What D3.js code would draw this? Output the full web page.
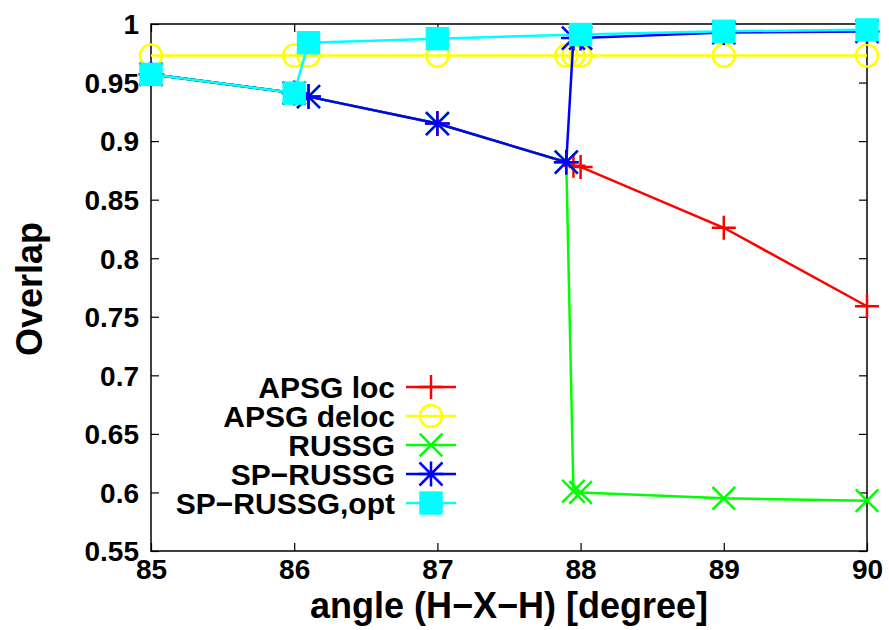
<!DOCTYPE html>
<html>
<head>
<meta charset="utf-8">
<script src="https://cdn.jsdelivr.net/npm/d3@7"></script>
<style>
  body { margin: 0; background: #fff; }
  svg text { font-family: "Liberation Sans", Arial, sans-serif; font-weight: bold; fill: #000; }
</style>
</head>
<body>
<svg id="chart" width="889" height="630"></svg>
<script>
// values
var angles = [85, 86, 86.1, 87, 87.9, 87.95, 88, 89, 90];
var anglesOpt = [85, 86, 86.1, 87, 88, 89, 90];

var apsgLoc   = [0.957, 0.941, 0.938, 0.915, 0.882, 0.879, 0.878, 0.826, 0.759];
var apsgDeloc = [0.973, 0.973, 0.973, 0.973, 0.973, 0.973, 0.973, 0.973, 0.973];
var russg     = [0.957, 0.941, 0.938, 0.915, 0.882, 0.601, 0.600, 0.595, 0.593];
var spRussg   = [0.957, 0.941, 0.938, 0.915, 0.882, 0.988, 0.988, 0.9927, 0.9937];
var spRussgOpt = [0.957, 0.941, 0.984, 0.9875, 0.991, 0.9938, 0.995];

var seriesNames = ['APSG loc', 'APSG deloc', 'RUSSG', 'SP\u2212RUSSG', 'SP\u2212RUSSG,opt'];
var seriesColors = ['#ff0000', '#ffff00', '#00ff00', '#0000ff', '#00ffff'];

var xTicks = [85, 86, 87, 88, 89, 90];
var yTicks = [0.55, 0.6, 0.65, 0.7, 0.75, 0.8, 0.85, 0.9, 0.95, 1];

var margin = {left: 151, right: 867, top: 24, bottom: 551};

var svg = d3.select('#chart');
var x = d3.scaleLinear().domain([85, 90]).range([margin.left, margin.right]);
var y = d3.scaleLinear().domain([0.55, 1]).range([margin.bottom, margin.top]);

// axes (ticks inward, mirrored on top/right)
var gx = svg.append('g').attr('transform', 'translate(0,' + margin.bottom + ')')
	.call(d3.axisBottom(x).tickValues(xTicks).tickSize(-8).tickPadding(0).tickFormat(function (d) { return String(d); }));
var gy = svg.append('g').attr('transform', 'translate(' + margin.left + ',0)')
	.call(d3.axisLeft(y).tickValues(yTicks).tickSize(-8).tickPadding(12).tickFormat(function (d) { return String(d); }));
svg.append('g').attr('transform', 'translate(0,' + margin.top + ')')
	.call(d3.axisTop(x).tickValues(xTicks).tickSize(-8).tickFormat(''));
svg.append('g').attr('transform', 'translate(' + margin.right + ',0)')
	.call(d3.axisRight(y).tickValues(yTicks).tickSize(-8).tickFormat(''));

svg.selectAll('.domain').remove();
svg.selectAll('.tick line').attr('stroke', '#000').attr('stroke-width', 1.2);

gx.selectAll('text').attr('font-size', 28).attr('dy', null).attr('y', 28);
gy.selectAll('text').attr('font-size', 28).attr('dy', '0.35em').attr('x', -12);

svg.append('rect')
	.attr('x', margin.left).attr('y', margin.top)
	.attr('width', margin.right - margin.left).attr('height', margin.bottom - margin.top)
	.attr('fill', 'none').attr('stroke', '#000').attr('stroke-width', 1.5);

// axis titles
svg.append('text').attr('x', 509).attr('y', 618).attr('text-anchor', 'middle')
	.attr('font-size', 36)
	.text('angle (H\u2212X\u2212H) [degree]');
svg.append('text').attr('transform', 'translate(42,289) rotate(-90)').attr('text-anchor', 'middle')
	.attr('font-size', 36)
	.text('Overlap');

// marker shapes
function plusPath(s) { return 'M' + (-s) + ',0H' + s + 'M0,' + (-s) + 'V' + s; }
function timesPath(s) { return 'M' + (-s) + ',' + (-s) + 'L' + s + ',' + s + 'M' + (-s) + ',' + s + 'L' + s + ',' + (-s); }
function starPath(s) { return plusPath(s) + timesPath(s * 0.92); }

function drawMarker(g, kind, color) {
	if (kind == 'plus') {
		g.append('path').attr('d', plusPath(12)).attr('stroke', color).attr('stroke-width', 2.5).attr('fill', 'none');
	} else if (kind == 'circle') {
		g.append('circle').attr('r', 11).attr('stroke', color).attr('stroke-width', 2.5).attr('fill', 'none');
	} else if (kind == 'times') {
		g.append('path').attr('d', timesPath(11.3)).attr('stroke', color).attr('stroke-width', 2.5).attr('fill', 'none');
	} else if (kind == 'star') {
		g.append('path').attr('d', starPath(12.5)).attr('stroke', color).attr('stroke-width', 2.5).attr('fill', 'none');
	} else {
		g.append('rect').attr('x', -11.7).attr('y', -11.7).attr('width', 23.4).attr('height', 23.4).attr('fill', color);
	}
}

var markers = ['plus', 'circle', 'times', 'star', 'square'];
var series = [
	{xs: angles, ys: apsgLoc},
	{xs: angles, ys: apsgDeloc},
	{xs: angles, ys: russg},
	{xs: angles, ys: spRussg},
	{xs: anglesOpt, ys: spRussgOpt}
];

var line = d3.line().x(function (d) { return x(d[0]); }).y(function (d) { return y(d[1]); });

for (var i = 0; i < series.length; i++) {
	var pts = d3.zip(series[i].xs, series[i].ys);
	var g = svg.append('g');
	g.append('path').datum(pts).attr('d', line)
		.attr('fill', 'none').attr('stroke', seriesColors[i]).attr('stroke-width', 2.5);
	for (var j = 0; j < pts.length; j++) {
		var m = g.append('g').attr('transform', 'translate(' + x(pts[j][0]) + ',' + y(pts[j][1]) + ')');
		drawMarker(m, markers[i], seriesColors[i]);
	}
}

// legend
var legend = svg.append('g');
for (var i = 0; i < seriesNames.length; i++) {
	var ly = 387 + i * 29;
	legend.append('text').attr('x', 395).attr('y', ly + 10.5).attr('text-anchor', 'end')
		.attr('font-size', 30).text(seriesNames[i]);
	legend.append('line').attr('x1', 406).attr('x2', 456).attr('y1', ly).attr('y2', ly)
		.attr('stroke', seriesColors[i]).attr('stroke-width', 2.5);
	var lm = legend.append('g').attr('transform', 'translate(431,' + ly + ')');
	drawMarker(lm, markers[i], seriesColors[i]);
}
</script>
</body>
</html>
